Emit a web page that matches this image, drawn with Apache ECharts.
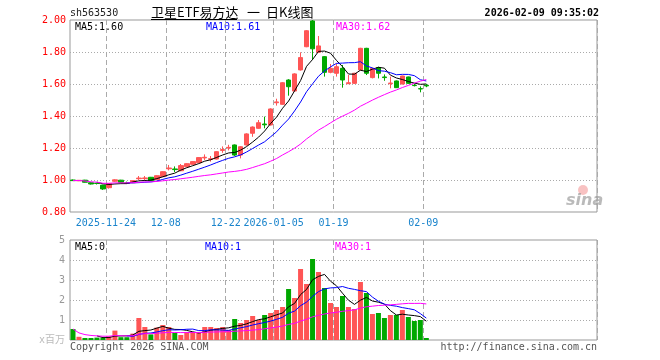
<!DOCTYPE html>
<html>
<head>
<meta charset="utf-8">
<script src="https://cdn.jsdelivr.net/npm/echarts@6/dist/echarts.min.js"></script>
<style>html,body{margin:0;padding:0;background:#fff}#c{width:660px;height:360px}</style>
</head>
<body>
<div id="c"></div>
<script>
// ---- data ----
const dates = [
 '2025-11-14','2025-11-17','2025-11-18','2025-11-19','2025-11-20','2025-11-21',
 '2025-11-24','2025-11-25','2025-11-26','2025-11-27','2025-11-28',
 '2025-12-01','2025-12-02','2025-12-03','2025-12-04','2025-12-05',
 '2025-12-08','2025-12-09','2025-12-10','2025-12-11','2025-12-12',
 '2025-12-15','2025-12-16','2025-12-17','2025-12-18','2025-12-19',
 '2025-12-22','2025-12-23','2025-12-24','2025-12-25','2025-12-26',
 '2025-12-29','2025-12-30','2025-12-31',
 '2026-01-05','2026-01-06','2026-01-07','2026-01-08','2026-01-09',
 '2026-01-12','2026-01-13','2026-01-14','2026-01-15','2026-01-16',
 '2026-01-19','2026-01-20','2026-01-21','2026-01-22','2026-01-23',
 '2026-01-26','2026-01-27','2026-01-28','2026-01-29','2026-01-30',
 '2026-02-02','2026-02-03','2026-02-04','2026-02-05','2026-02-06',
 '2026-02-09'
];
const opens = [
 1.000,0.995,0.999,0.983,0.980,0.968,0.952,0.992,0.999,0.982,
 0.983,1.008,1.009,1.017,1.002,1.021,1.070,1.069,1.058,1.083,
 1.098,1.108,1.138,1.130,1.131,1.185,1.200,1.219,1.156,1.219,
 1.292,1.323,1.350,1.344,1.483,1.473,1.625,1.556,1.688,1.833,
 1.994,1.798,1.771,1.673,1.667,1.698,1.602,1.604,1.688,1.823,
 1.640,1.702,1.644,1.602,1.619,1.600,1.644,1.592,1.571,1.592
];
const closes = [
 0.996,0.998,0.986,0.975,0.978,0.944,0.978,1.001,0.985,0.979,
 0.996,1.012,1.013,0.996,1.027,1.052,1.075,1.065,1.090,1.102,
 1.115,1.140,1.142,1.133,1.177,1.190,1.204,1.156,1.208,1.288,
 1.331,1.358,1.345,1.444,1.488,1.608,1.583,1.663,1.765,1.933,
 1.820,1.838,1.673,1.698,1.708,1.625,1.608,1.667,1.823,1.667,
 1.698,1.667,1.640,1.606,1.577,1.650,1.604,1.590,1.569,1.588
];
const lows = [
 0.994,0.993,0.984,0.972,0.972,0.938,0.946,0.988,0.982,0.975,
 0.981,1.000,1.000,0.994,1.000,1.019,1.060,1.050,1.055,1.080,
 1.095,1.105,1.125,1.115,1.128,1.170,1.185,1.150,1.135,1.215,
 1.270,1.320,1.323,1.340,1.465,1.470,1.527,1.552,1.684,1.830,
 1.750,1.795,1.646,1.667,1.646,1.577,1.600,1.600,1.685,1.656,
 1.635,1.635,1.620,1.573,1.575,1.598,1.600,1.585,1.548,1.580
];
const highs = [
 1.003,1.000,1.001,0.986,0.984,0.970,0.980,1.005,1.001,0.990,
 0.998,1.025,1.025,1.019,1.030,1.055,1.094,1.085,1.100,1.105,
 1.118,1.143,1.160,1.150,1.180,1.210,1.220,1.222,1.212,1.292,
 1.335,1.375,1.396,1.448,1.508,1.612,1.630,1.667,1.798,1.937,
 2.000,1.900,1.775,1.725,1.729,1.719,1.656,1.670,1.826,1.826,
 1.700,1.708,1.660,1.646,1.622,1.652,1.646,1.600,1.585,1.600
];
// volume, millions
const volumes = [
 0.55,0.16,0.10,0.10,0.12,0.11,0.18,0.47,0.14,0.14,
 0.32,1.10,0.65,0.28,0.62,0.75,0.65,0.35,0.25,0.40,
 0.40,0.35,0.65,0.65,0.60,0.65,0.50,1.05,0.85,1.00,
 1.20,1.00,1.25,1.35,1.50,1.65,2.55,2.10,3.55,2.80,
 4.05,3.40,2.60,1.85,1.65,2.20,1.65,1.55,2.90,2.35,
 1.30,1.35,1.10,1.25,1.25,1.50,1.15,0.95,1.00,0.10
];
const tickDates = ['2025-11-24','2025-12-08','2025-12-22','2026-01-05','2026-01-19','2026-02-09'];
const tickTexts = ['2025-11-24','12-08','12-22','2026-01-05','01-19','02-09'];
const priceTicks = [0.8, 2.0, 0.2];
const volTicks = [0, 5, 1];
const padCount = 28;

// ---- build ----
const RED = '#ff5555', GREEN = '#00a800';
const MONO = '"DejaVu Sans Mono", "Liberation Mono", monospace';
const cats = dates.concat(Array.from({length: padCount}, (_, k) => 'pad' + k));
const tickIdx = tickDates.map(d => dates.indexOf(d));
const isTick = (i) => tickIdx.indexOf(i) >= 0;

function ma(arr, n, cumulative) {
  return arr.map((v, i) => {
    if (i < n - 1) {
      if (!cumulative) return '-';
      let s = 0; for (let k = 0; k <= i; k++) s += arr[k];
      return s / (i + 1);
    }
    let s = 0; for (let k = i - n + 1; k <= i; k++) s += arr[k];
    return s / n;
  });
}
const pMA5 = ma(closes, 5), pMA10 = ma(closes, 10), pMA30 = ma(closes, 30, true);
const vMA5 = ma(volumes, 5), vMA10 = ma(volumes, 10), vMA30 = ma(volumes, 30, true);
const last = a => a[a.length - 1];
const fl2 = v => (Math.floor(v * 100 + 1e-6) / 100).toFixed(2);
const fl0 = v => String(Math.floor(v + 1e-6));

const kData = opens.map((o, i) => [o, closes[i], lows[i], highs[i]]);
const vData = volumes.map((v, i) => ({ value: v, itemStyle: { color: closes[i] >= opens[i] ? RED : GREEN } }));

function xAxisCfg(gi, showLabel) {
  return {
    type: 'category', gridIndex: gi, data: cats, boundaryGap: true,
    axisLine: { show: false }, axisTick: { show: false },
    axisLabel: {
      show: showLabel, interval: (i) => isTick(i),
      formatter: (v) => tickTexts[tickDates.indexOf(v)] || '',
      color: '#1a84cc', fontFamily: MONO, fontSize: 10, margin: 6, padding: [0, 6, 0, 0]
    },
    splitLine: { show: true, interval: (i) => isTick(i), lineStyle: { color: '#aaa', type: [5, 3], width: 1 } }
  };
}
const lineS = (name, data, color, xi) => ({
  name, type: 'line', xAxisIndex: xi, yAxisIndex: xi, data, symbol: 'none', showSymbol: false,
  lineStyle: { width: 1, color }, itemStyle: { color }, z: 5, silent: true
});
const txt = (x, y, text, color, extra) => Object.assign({
  type: 'text', x, y, silent: true,
  style: Object.assign({ text, fill: color, font: '10px ' + MONO, verticalAlign: 'middle', align: 'left' }, extra || {})
});

const chart = echarts.init(document.getElementById('c'), null, { renderer: 'canvas' });
chart.setOption({
  animation: false,
  backgroundColor: '#fff',
  grid: [
    { left: 70, top: 20, width: 527, height: 192, show: true, borderColor: '#999', borderWidth: 1, backgroundColor: 'transparent' },
    { left: 70, top: 240, width: 527, height: 100, show: true, borderColor: '#999', borderWidth: 1, backgroundColor: 'transparent' }
  ],
  xAxis: [xAxisCfg(0, true), xAxisCfg(1, false)],
  yAxis: [
    {
      type: 'value', gridIndex: 0, min: priceTicks[0], max: priceTicks[1], interval: priceTicks[2],
      axisLine: { show: false }, axisTick: { show: false },
      axisLabel: { color: '#ff0000', fontFamily: MONO, fontSize: 10, margin: 4, formatter: v => v.toFixed(2) },
      splitLine: { show: true, showMinLine: false, showMaxLine: false, lineStyle: { color: '#aaa', type: [1, 2] } }
    },
    {
      type: 'value', gridIndex: 1, min: volTicks[0], max: volTicks[1], interval: volTicks[2],
      axisLine: { show: false }, axisTick: { show: false },
      axisLabel: {
        fontFamily: MONO + ', "Noto Sans CJK SC"', fontSize: 10, margin: 5,
        color: (v) => (+v === 0 ? '#bbb' : '#999'),
        formatter: v => (v === 0 ? 'x百万' : String(v))
      },
      splitLine: { show: true, showMinLine: false, showMaxLine: false, lineStyle: { color: '#aaa', type: [1, 2] } }
    }
  ],
  series: [
    {
      type: 'candlestick', xAxisIndex: 0, yAxisIndex: 0, data: kData, barWidth: 5,
      itemStyle: { color: RED, color0: GREEN, borderColor: RED, borderColor0: GREEN, borderWidth: 1 }, z: 3
    },
    lineS('MA5', pMA5, '#000000', 0),
    lineS('MA10', pMA10, '#0000ff', 0),
    lineS('MA30', pMA30, '#ff00ff', 0),
    { type: 'bar', xAxisIndex: 1, yAxisIndex: 1, data: vData, barWidth: 5, z: 3 },
    lineS('vMA5', vMA5, '#000000', 1),
    lineS('vMA10', vMA10, '#0000ff', 1),
    lineS('vMA30', vMA30, '#ff00ff', 1)
  ],
  graphic: [
    txt(70, 13, 'sh563530', '#222'),
    txt(151, 12, '卫星ETF易方达', '#000', { font: '13px "Noto Sans CJK SC"' }),
    { type: 'line', silent: true, shape: { x1: 151, y1: 19.5, x2: 237, y2: 19.5 }, style: { stroke: '#000', lineWidth: 1 } },
    txt(247, 12, '一', '#000', { font: '13px "Noto Sans CJK SC"' }),
    txt(266, 12, '日K线图', '#000', { font: '13px "Noto Sans CJK SC"' }),
    txt(599, 13, '2026-02-09 09:35:02', '#000', { align: 'right', font: 'bold 10px ' + MONO }),
    txt(75, 27, 'MA5:' + fl2(last(pMA5)), '#000'),
    txt(206, 27, 'MA10:' + fl2(last(pMA10)), '#0000ff'),
    txt(336, 27, 'MA30:' + fl2(last(pMA30)), '#ff00ff'),
    txt(75, 247, 'MA5:' + fl0(last(vMA5)), '#000'),
    txt(205, 247, 'MA10:' + fl0(last(vMA10)), '#0000ff'),
    txt(335, 247, 'MA30:' + fl0(last(vMA30)), '#ff00ff'),
    txt(70, 347, 'Copyright 2026 SINA.COM', '#555'),
    txt(597, 347, 'http://finance.sina.com.cn', '#555', { align: 'right' }),
    { type: 'circle', silent: true, shape: { cx: 583, cy: 190, r: 5 }, style: { fill: 'rgba(240,120,120,0.45)' } },
    txt(566, 201, 'sina', 'rgba(140,140,140,0.6)', { font: 'italic bold 16px "DejaVu Sans"' })
  ]
});
</script>
</body>
</html>
